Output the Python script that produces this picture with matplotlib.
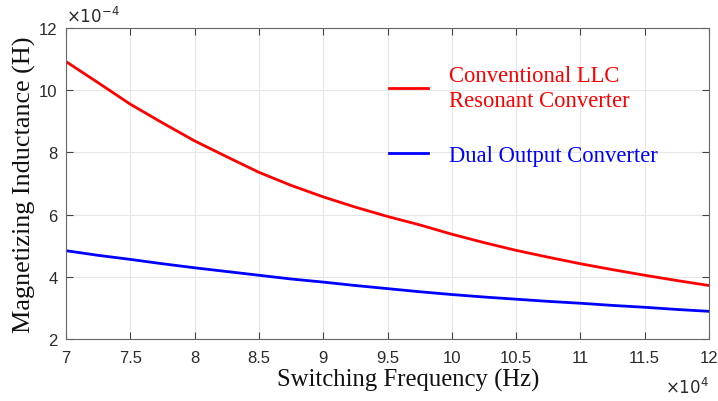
import matplotlib
matplotlib.use("Agg")
import matplotlib.pyplot as plt
import numpy as np

# Switching frequency (Hz) and magnetizing inductance (H)
freq_hz = [70000, 72500, 75000, 77500, 80000, 82500, 85000, 87500, 90000, 92500, 95000,
           97500, 100000, 102500, 105000, 107500, 110000, 112500, 115000, 117500, 120000]
lm_llc = [10.92e-4, 10.24e-4, 9.55e-4, 8.95e-4, 8.37e-4, 7.86e-4, 7.36e-4, 6.94e-4, 6.57e-4,
          6.24e-4, 5.94e-4, 5.67e-4, 5.37e-4, 5.10e-4, 4.85e-4, 4.63e-4, 4.42e-4, 4.23e-4,
          4.05e-4, 3.88e-4, 3.72e-4]
lm_dual = [4.84e-4, 4.69e-4, 4.56e-4, 4.42e-4, 4.29e-4, 4.17e-4, 4.05e-4, 3.93e-4, 3.83e-4,
           3.72e-4, 3.62e-4, 3.52e-4, 3.43e-4, 3.35e-4, 3.28e-4, 3.21e-4, 3.15e-4, 3.08e-4,
           3.02e-4, 2.95e-4, 2.89e-4]
series_labels = ["Conventional LLC\nResonant Converter", "Dual Output Converter"]
x_ticks = [7, 7.5, 8, 8.5, 9, 9.5, 10, 10.5, 11, 11.5, 12]
x_tick_labels = ["7", "7.5", "8", "8.5", "9", "9.5", "10", "10.5", "11", "11.5", "12"]
y_ticks = [2, 4, 6, 8, 10, 12]

x_scale = 1e4
y_scale = 1e-4

fig = plt.figure(figsize=(7.18, 4.02), dpi=100)
ax = fig.add_axes([0.0919, 0.1542, 0.8956, 0.7737])

f = np.array(freq_hz) / x_scale
ax.plot(f, np.array(lm_llc) / y_scale, color="#ff0000", lw=2.0, label=series_labels[0])
ax.plot(f, np.array(lm_dual) / y_scale, color="#0000ff", lw=2.0, label=series_labels[1])

ax.set_xlim(7, 12)
ax.set_ylim(2, 12)
ax.set_xticks(x_ticks)
ax.set_xticklabels(x_tick_labels)
ax.set_yticks(y_ticks)

sans = ["Liberation Sans", "DejaVu Sans"]
for lab in ax.get_xticklabels() + ax.get_yticklabels():
    lab.set_fontfamily(sans)
    lab.set_fontsize(12)
    lab.set_color("#2a2a2a")

ax.tick_params(direction="in", length=5, width=0.8, color="#444444",
               top=True, right=True)
ax.tick_params(axis="x", pad=8)
ax.tick_params(axis="y", pad=6)
for s in ax.spines.values():
    s.set_color("#666666")
    s.set_linewidth(0.8)
ax.grid(True, color="#e6e6e6", lw=0.8)
ax.set_axisbelow(True)

serif = ["Liberation Serif", "DejaVu Serif"]
ax.set_xlabel("Switching Frequency (Hz)", family=serif, fontsize=17.8, color="#111111")
ax.xaxis.set_label_coords(0.532, -0.093, transform=ax.transAxes)
ax.xaxis.label.set_va("top")
ax.set_ylabel("Magnetizing Inductance (H)", family=serif, fontsize=18.8, color="#111111")
ax.yaxis.label.set_va("center")
ax.yaxis.set_label_coords(-0.064, 0.5, transform=ax.transAxes)

ax.text(0.0, 1.01, r"$\times10^{-4}$", transform=ax.transAxes, ha="left", va="bottom",
        fontsize=12, color="#2a2a2a", family=sans)
ax.text(1.0, -0.118, r"$\times10^{4}$", transform=ax.transAxes, ha="right", va="top",
        fontsize=12, color="#2a2a2a", family=sans)

ax.legend(loc="upper left", bbox_to_anchor=(0.471, 0.945), frameon=False,
          prop={"family": serif, "size": 16.3}, labelcolor=["#ff0000", "#0000ff"],
          handlelength=1.7, handletextpad=0.95, labelspacing=1.52)

fig.savefig("out.png", dpi=100)
